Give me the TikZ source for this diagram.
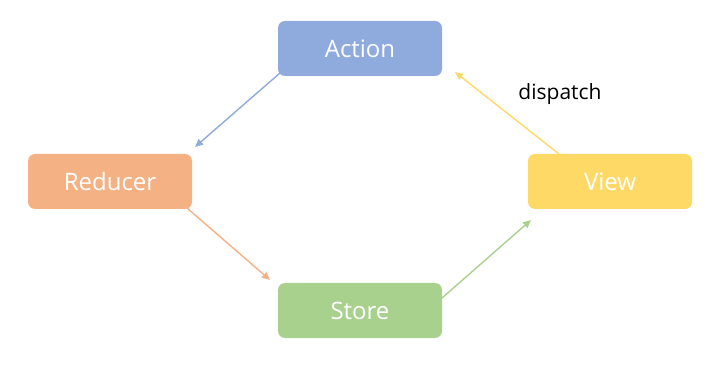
\documentclass[tikz,border=0pt]{standalone}
\usepackage{fontspec}
\setmainfont{Open Sans}
\usetikzlibrary{arrows.meta}
\definecolor{cact}{HTML}{8FAADC}
\definecolor{cred}{HTML}{F4B183}
\definecolor{cview}{HTML}{FFD966}
\definecolor{cstore}{HTML}{A9D18E}
\begin{document}
\begin{tikzpicture}[x=1pt,y=-1pt,
  box/.style={rounded corners=7pt, minimum width=164pt, minimum height=55pt, inner sep=0pt,
    text=white, font=\fontsize{24}{28}\selectfont},
  conn/.style={line width=1.4pt, -{Triangle[length=8pt,width=7pt]}}]
\useasboundingbox (0,0) rectangle (726,366);
\node[box, fill=cact] (action) at (360,48.5) {Action};
\node[box, fill=cred] (reducer) at (110,181.5) {Reducer};
\node[box, fill=cview] (view) at (610,181.5) {View};
\node[box, fill=cstore] (store) at (360,310.5) {Store};
\coordinate (a1) at (280,73);
\coordinate (r1) at (195,147);
\coordinate (r2) at (187,208);
\coordinate (s1) at (270,280);
\coordinate (s2) at (442,298);
\coordinate (v1) at (531,220);
\coordinate (v2) at (559,154);
\coordinate (a2) at (455,72);
\draw[conn, cact] (a1) -- (r1);
\draw[conn, cred] (r2) -- (s1);
\draw[conn, cstore] (s2) -- (v1);
\draw[conn, cview] (v2) -- (a2);
\node[font=\fontsize{21}{24}\selectfont, text=black] (disp) at (560,94) {dispatch};
\end{tikzpicture}
\end{document}
